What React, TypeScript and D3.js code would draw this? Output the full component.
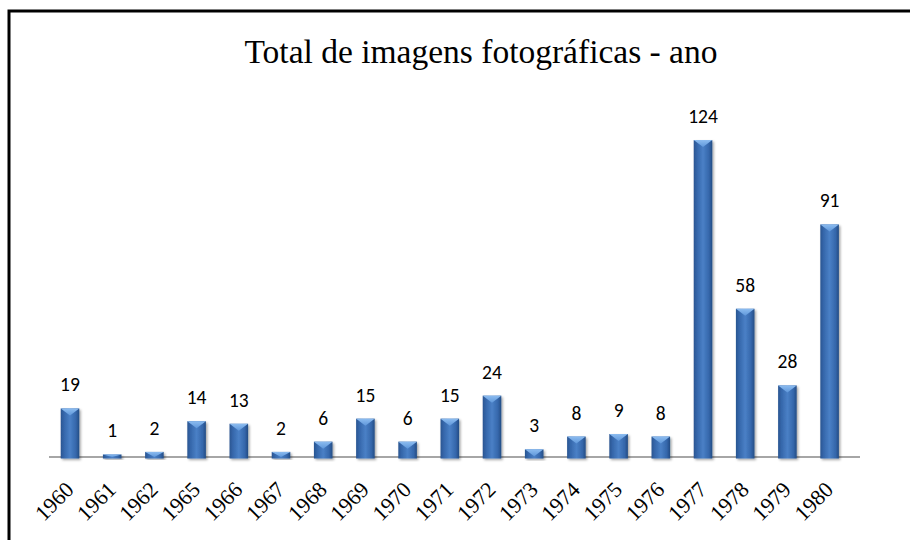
import React from "react";
import * as d3 from "d3";

const categories = ["1960","1961","1962","1965","1966","1967","1968","1969","1970","1971","1972","1973","1974","1975","1976","1977","1978","1979","1980"];
const values = [19,1,2,14,13,2,6,15,6,15,24,3,8,9,8,124,58,28,91];
const titleText = "Total de imagens fotográficas - ano";

export default function App() {
  const W = 910, H = 540;
  const baseY = 457;
  const x = d3.scaleBand<string>().domain(categories).range([48.9, 850.7]).padding(0);
  const y = d3.scaleLinear().domain([0, 140]).range([baseY, 99.2]);
  const bw = x.bandwidth() * 0.44;

  return (
    <svg width={W} height={H} style={{ position: "absolute", left: 0, top: 0, background: "#fff" }}>
      <defs>
        <linearGradient id="barg" x1="0" x2="1" y1="0" y2="0">
          <stop offset="0%" stopColor="#2a5591" />
          <stop offset="18%" stopColor="#3567ab" />
          <stop offset="50%" stopColor="#4a80c6" />
          <stop offset="82%" stopColor="#3567ab" />
          <stop offset="100%" stopColor="#244c84" />
        </linearGradient>
        <linearGradient id="topg" x1="0" x2="0" y1="0" y2="1">
          <stop offset="0%" stopColor="#8cbcf0" />
          <stop offset="100%" stopColor="#5f97da" />
        </linearGradient>
        <filter id="sh" x="-30%" y="-10%" width="160%" height="130%">
          <feDropShadow dx="1.5" dy="1.5" stdDeviation="1.2" floodColor="#000" floodOpacity="0.35" />
        </filter>
      </defs>
      <rect x={9} y={11} width={W} height={H} fill="none" stroke="#000" strokeWidth={3} />
      <text x={481} y={63} textAnchor="middle" fontFamily="'Liberation Serif', 'Times New Roman', serif" fontSize={33.5} fill="#000">
        {titleText}
      </text>
      <line x1={49} x2={860} y1={baseY} y2={baseY} stroke="#a6a6a6" strokeWidth={2} />
      {categories.map((c, i) => {
        const cx = (x(c) as number) + x.bandwidth() / 2;
        const top = y(values[i]);
        const h = baseY - top;
        const x0 = cx - bw / 2;
        const x1 = cx + bw / 2;
        const tri = Math.min(7, h);
        return (
          <g key={c}>
            <g filter="url(#sh)">
              <rect x={x0} y={top} width={bw} height={h + 1.5} fill="url(#barg)" />
            </g>
            <path d={`M${x0},${top}L${x1},${top}L${cx},${top + tri}Z`} fill="url(#topg)" />
            <text x={cx} y={top - 17} textAnchor="middle" fontFamily="Carlito, Calibri, 'Open Sans', sans-serif" fontSize={19.5} fill="#000">
              {values[i]}
            </text>
            <text
              transform={`translate(${cx + 5},${baseY + 34}) rotate(-45)`}
              textAnchor="end"
              fontFamily="'Liberation Serif', 'Times New Roman', serif"
              fontSize={22}
              fill="#000"
            >
              {c}
            </text>
          </g>
        );
      })}
    </svg>
  );
}
